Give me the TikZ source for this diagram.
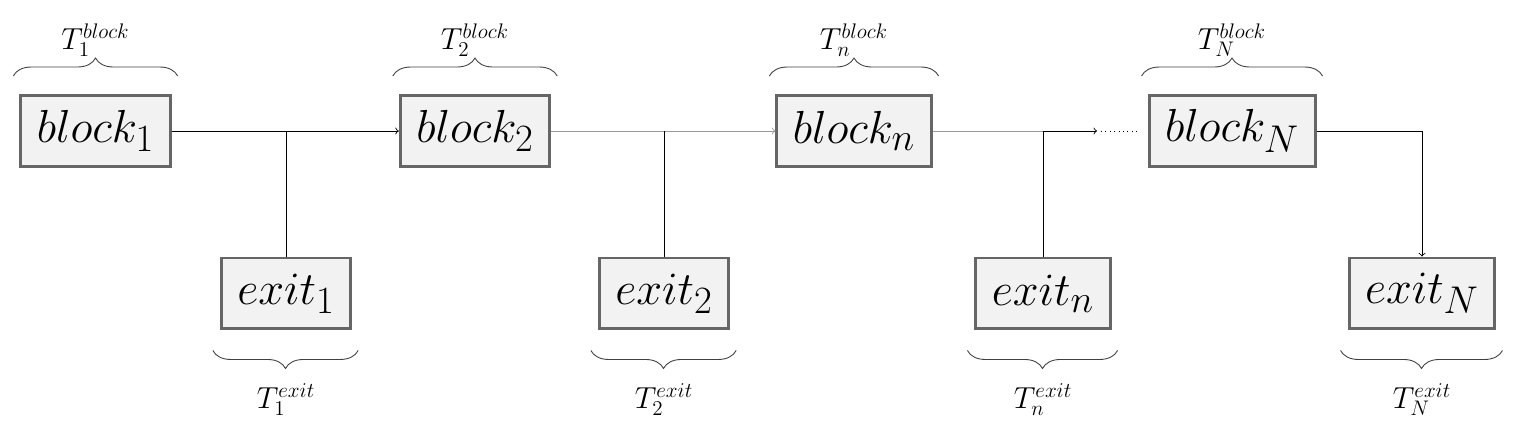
\documentclass[tikz,border=0pt]{standalone}
\usetikzlibrary{decorations.pathreplacing,calc}
\newcommand{\boxtxt}[1]{\scalebox{1.06}{$#1$}}
\begin{document}
\begin{tikzpicture}[x=0.02cm,y=-0.02cm,
  box/.style={draw=black!60, line width=1.7pt, fill=black!5, minimum height=1.42cm, inner xsep=0.32cm, font=\Huge},
  lbl/.style={font=\LARGE, inner sep=0pt},
  brc/.style={draw=black!75, line width=0.5pt, decorate, decoration={brace, amplitude=0.36cm}},
  brcm/.style={brc, decoration={brace, mirror, amplitude=0.36cm}},
  conn/.style={line width=0.5pt},
  faint/.style={line width=0.5pt, draw=black!40},
  ]
\useasboundingbox (0,0) rectangle (1524,428);
% blocks
\node[box] (b1) at (95.5,131) {\boxtxt{block_1}};
\node[box] (b2) at (475,131) {\boxtxt{block_2}};
\node[box] (bn) at (854,131) {\boxtxt{block_n}};
\node[box] (bN) at (1232,131) {\boxtxt{block_N}};
% exits
\node[box] (e1) at (286,293.5) {\boxtxt{exit_1}};
\node[box] (e2) at (664,293.5) {\boxtxt{exit_2}};
\node[box] (en) at (1043,293.5) {\boxtxt{exit_n}};
\node[box] (eN) at (1422,293.5) {\boxtxt{exit_N}};
% connectors
\draw[conn,->] (b1.east) -- (b2.west);
\draw[conn] (e1.north) -- (e1.north |- b1.east);
\draw[faint,->] (b2.east) -- (bn.west);
\draw[conn] (e2.north) -- (e2.north |- b2.east);
\coordinate (jn) at (en.north |- bn.east);
\draw[faint] (bn.east) -- (jn);
\draw[conn,->] (jn) -- ++(54,0) coordinate (dn);
\draw[conn,dotted] ($(dn)+(4,0)$) -- ($(bN.west)+(-8,0)$);
\draw[conn] (en.north) -- (jn);
\draw[conn,->] (bN.east) -| (eN.north);
% top braces and labels
\foreach \b/\s in {b1/1,b2/2,bn/n,bN/N}{
  \draw[brc] ($(\b.north west)+(-6,-18)$) -- ($(\b.north east)+(6,-18)$);
  \node[lbl] (t\b) at ($(\b.north)+(0,-54)$) {$T_{\s}^{block}$};
}
% bottom braces and labels
\foreach \e/\s in {e1/1,e2/2,en/n,eN/N}{
  \draw[brcm] ($(\e.south west)+(-7,20)$) -- ($(\e.south east)+(6,20)$);
  \node[lbl] (t\e) at ($(\e.south)+(0,69)$) {$T_{\s}^{exit}$};
}
\end{tikzpicture}
\end{document}
